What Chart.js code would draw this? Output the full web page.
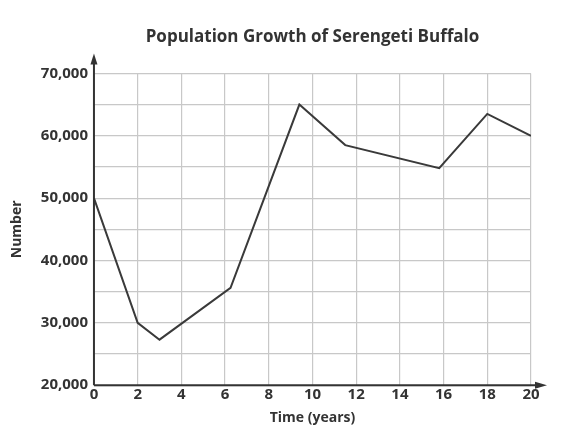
<!DOCTYPE html>
<html>
<head>
<meta charset="utf-8">
<script src="https://cdn.jsdelivr.net/npm/chart.js@4/dist/chart.umd.min.js"></script>
<style>
  html, body { margin: 0; padding: 0; background: #fff; }
  #wrap { width: 574px; height: 444px; }
</style>
</head>
<body>
<div id="wrap"><canvas id="myChart"></canvas></div>
<script>
// data
const years = [0, 2, 3, 6.25, 9.4, 11.5, 15.8, 18, 20];
const population = [50000, 30000, 27300, 35600, 65000, 58500, 54800, 63500, 60000];
const xTicks = [0, 2, 4, 6, 8, 10, 12, 14, 16, 18, 20];
const yTicks = [20000, 30000, 40000, 50000, 60000, 70000];

const FONT = "'Open Sans', sans-serif";
const INK = '#333333';

// axis lines with arrow heads
const arrowAxes = {
  id: 'arrowAxes',
  afterDraw(chart) {
    const ctx = chart.ctx;
    const x = chart.scales.x, y = chart.scales.y;
    const x0 = x.left, y0 = y.bottom;
    ctx.save();
    ctx.strokeStyle = INK;
    ctx.fillStyle = INK;
    ctx.lineWidth = 2;
    ctx.beginPath();
    ctx.moveTo(x0, y0);
    ctx.lineTo(x0, y.top - 10);
    ctx.moveTo(x0, y0);
    ctx.lineTo(x.right + 6, y0);
    ctx.stroke();
    // up arrow
    ctx.beginPath();
    ctx.moveTo(x0, y.top - 20);
    ctx.lineTo(x0 - 3.5, y.top - 9);
    ctx.lineTo(x0 + 3.5, y.top - 9);
    ctx.closePath();
    ctx.fill();
    // right arrow
    ctx.beginPath();
    ctx.moveTo(x.right + 16, y0);
    ctx.lineTo(x.right + 4, y0 - 3.5);
    ctx.lineTo(x.right + 4, y0 + 3.5);
    ctx.closePath();
    ctx.fill();
    ctx.restore();
  }
};

const ctx = document.getElementById('myChart').getContext('2d');
const myChart = new Chart(ctx, {
  type: 'line',
  data: {
    datasets: [{
      label: 'Population',
      data: years.map((t, i) => ({ x: t, y: population[i] })),
      borderColor: '#3a3a3a',
      borderWidth: 2,
      pointRadius: 0,
      tension: 0,
      fill: false
    }]
  },
  options: {
    responsive: true,
    maintainAspectRatio: false,
    animation: false,
    layout: { padding: { top: 27, left: 4, right: 43, bottom: 18 } },
    plugins: {
      legend: { display: false },
      tooltip: { enabled: false },
      title: {
        display: true,
        fullSize: false,
        text: 'Population Growth of Serengeti Buffalo',
        color: INK,
        font: { family: FONT, size: 17, weight: 'bold' },
        padding: { top: 0, bottom: 26 }
      }
    },
    scales: {
      x: {
        type: 'linear',
        min: 0,
        max: 20,
        afterBuildTicks: s => { s.ticks = xTicks.map(v => ({ value: v })); },
        ticks: {
          color: INK,
          font: { family: FONT, size: 15, weight: 'bold' },
          padding: 1,
          maxRotation: 0
        },
        grid: { color: '#c8c8c8', lineWidth: 1.2, drawTicks: false },
        border: { display: false },
        title: {
          display: true,
          text: 'Time (years)',
          color: INK,
          font: { family: FONT, size: 14, weight: 'bold' },
          padding: { top: 4, bottom: 0 }
        }
      },
      y: {
        type: 'linear',
        min: 20000,
        max: 70000,
        ticks: {
          stepSize: 5000,
          color: INK,
          font: { family: FONT, size: 15, weight: 'bold' },
          padding: 6,
          callback: v => yTicks.includes(v) ? v.toLocaleString('en-US') : ''
        },
        grid: { color: '#c8c8c8', lineWidth: 1.2, drawTicks: false },
        border: { display: false },
        title: {
          display: true,
          text: 'Number',
          color: INK,
          font: { family: FONT, size: 14, weight: 'bold' },
          padding: { top: 5, bottom: 9 }
        }
      }
    }
  },
  plugins: [arrowAxes]
});
</script>
</body>
</html>
